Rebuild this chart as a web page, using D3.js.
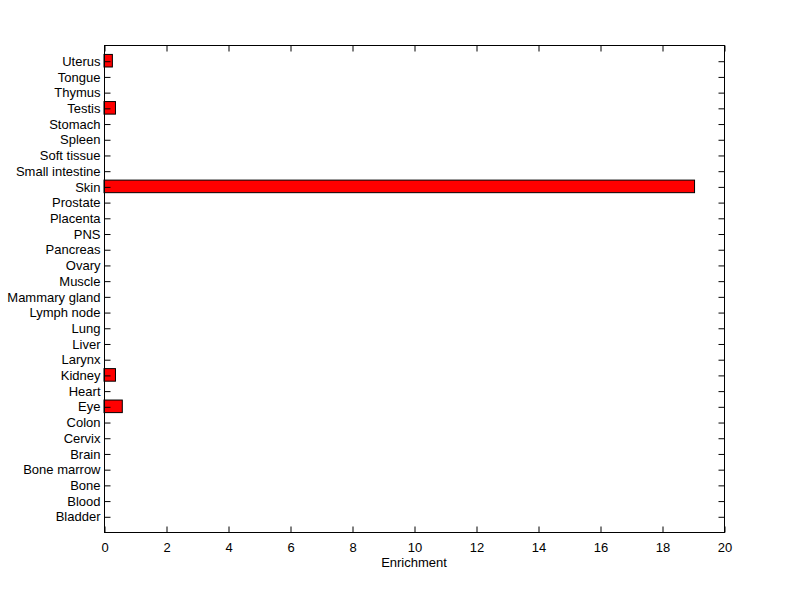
<!DOCTYPE html>
<meta charset="utf-8">
<title>Enrichment</title>
<style>
  body { margin: 0; background: #fff; }
  text { font-family: "Liberation Sans", Arial, sans-serif; font-size: 13px; fill: #000; }
</style>
<body>
<script src="https://cdn.jsdelivr.net/npm/d3@7"></script>
<script>

// tissues, bottom to top
var tissues = ["Bladder", "Blood", "Bone", "Bone marrow", "Brain", "Cervix", "Colon", "Eye",
  "Heart", "Kidney", "Larynx", "Liver", "Lung", "Lymph node", "Mammary gland", "Muscle",
  "Ovary", "Pancreas", "PNS", "Placenta", "Prostate", "Skin", "Small intestine",
  "Soft tissue", "Spleen", "Stomach", "Testis", "Thymus", "Tongue", "Uterus"];
var enrichment = [0, 0, 0, 0, 0, 0, 0, 0.59,
  0, 0.37, 0, 0, 0, 0, 0, 0,
  0, 0, 0, 0, 0, 19.05, 0,
  0, 0, 0, 0.37, 0, 0, 0.27];
var xTicks = [0, 2, 4, 6, 8, 10, 12, 14, 16, 18, 20];

var margin = {top: 45, right: 76, bottom: 66, left: 104};
var width = 800 - margin.left - margin.right;
var height = 599 - margin.top - margin.bottom - 1;

var x = d3.scaleLinear().domain([0, 20]).range([0, width]);
// MATLAB style ylim [0, n+1]
var y = d3.scaleLinear().domain([0, tissues.length + 1]).range([height, 0]);
var barH = 0.8 * (y(0) - y(1));

var svg = d3.select("body").append("svg")
    .attr("width", 800)
    .attr("height", 599)
  .append("g")
    .attr("transform", "translate(" + margin.left + "," + margin.top + ")");

// bars
svg.selectAll(".bar")
    .data(enrichment)
  .enter().append("rect")
    .attr("class", "bar")
    .attr("x", x(0))
    .attr("y", function(d, i) { return y(i + 1) - barH / 2; })
    .attr("width", function(d) { return x(d) - x(0); })
    .attr("height", barH)
    .attr("fill", "#ff0000")
    .attr("stroke", "#000")
    .attr("stroke-width", 1)
    .style("display", function(d) { return d > 0 ? null : "none"; });

// box
svg.append("rect")
    .attr("x", 0.5).attr("y", 0.5)
    .attr("width", width).attr("height", height)
    .attr("fill", "none").attr("stroke", "#000");

var yIdx = d3.range(1, tissues.length + 1);

// bottom axis
var xAxis = svg.append("g")
    .attr("transform", "translate(0.5," + (height + 0.5) + ")")
    .call(d3.axisBottom(x).tickValues(xTicks).tickSizeInner(-6).tickSizeOuter(0).tickPadding(10));
// top ticks
var xTop = svg.append("g")
    .attr("transform", "translate(0.5,0.5)")
    .call(d3.axisTop(x).tickValues(xTicks).tickSizeInner(-6).tickSizeOuter(0).tickFormat(""));

// left axis
var yAxis = svg.append("g")
    .attr("transform", "translate(0.5,0.5)")
    .call(d3.axisLeft(y).tickValues(yIdx).tickSizeInner(-6).tickSizeOuter(0).tickPadding(4)
      .tickFormat(function(d) { return tissues[d - 1]; }));
// right ticks
var yRight = svg.append("g")
    .attr("transform", "translate(" + (width + 0.5) + ",0.5)")
    .call(d3.axisRight(y).tickValues(yIdx).tickSizeInner(-6).tickSizeOuter(0).tickFormat(""));

svg.selectAll(".domain").remove();
svg.selectAll(".tick line").attr("stroke", "#000");
svg.selectAll(".tick text")
    .style("font-family", "'Liberation Sans', Arial, sans-serif")
    .style("font-size", "13px")
    .attr("fill", "#000");

// axis label
svg.append("text")
    .attr("x", width / 2)
    .attr("y", height + 35)
    .style("text-anchor", "middle")
    .text("Enrichment");

</script>
</body>
